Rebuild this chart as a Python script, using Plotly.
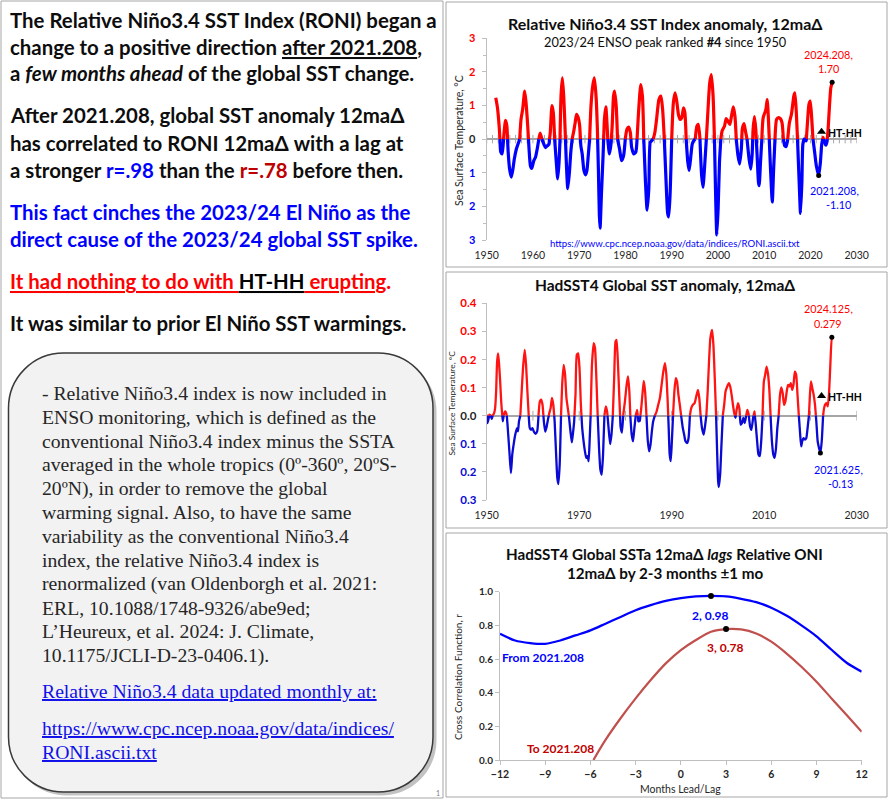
import numpy as np
import plotly.graph_objects as go

W, H = 889, 800

# ---------------- DATA ----------------
# Relative Nino3.4 index, 12-month-average difference
roni_year = [1951.96, 1952.33, 1952.69, 1953.05, 1953.35, 1953.64, 1954.07, 1954.36, 1954.65, 1954.95,
             1955.31, 1955.67, 1955.96, 1956.40, 1956.76, 1957.13, 1957.42, 1957.78, 1958.22, 1958.51,
             1958.87, 1959.16, 1959.45, 1959.75, 1960.18, 1960.55, 1960.91, 1961.27, 1961.56, 1961.93,
             1962.36, 1962.73, 1963.09, 1963.45, 1963.75, 1964.11, 1964.40, 1964.69, 1965.05, 1965.35,
             1965.64, 1965.85, 1966.07, 1966.36, 1966.65, 1966.95, 1967.16, 1967.53, 1967.89, 1968.18,
             1968.47, 1968.84, 1969.13, 1969.42, 1969.78, 1970.07, 1970.36, 1970.65, 1971.02, 1971.38,
             1971.67, 1971.96, 1972.25, 1972.55, 1972.91, 1973.27, 1973.64, 1973.93, 1974.15, 1974.36,
             1974.51, 1974.80, 1975.16, 1975.45, 1975.75, 1976.18, 1976.55, 1976.91, 1977.13, 1977.42,
             1977.64, 1978.00, 1978.29, 1978.73, 1979.16, 1979.60, 1979.96, 1980.33, 1980.69, 1981.05,
             1981.35, 1981.78, 1982.22, 1982.51, 1982.87, 1983.31, 1983.67, 1983.96, 1984.33, 1984.69,
             1985.05, 1985.35, 1985.64, 1986.00, 1986.36, 1986.73, 1987.24, 1987.67, 1988.04, 1988.40,
             1988.76, 1989.13, 1989.35, 1989.64, 1990.00, 1990.36, 1990.73, 1991.09, 1991.45, 1991.82,
             1992.18, 1992.55, 1992.84, 1993.13, 1993.49, 1993.78, 1994.15, 1994.44, 1994.73, 1995.09,
             1995.45, 1995.75, 1996.11, 1996.47, 1996.76, 1997.13, 1997.49, 1997.85, 1998.22, 1998.58,
             1998.95, 1999.24, 1999.53, 1999.75, 2000.04, 2000.33, 2000.62, 2000.91, 2001.42, 2001.78,
             2002.15, 2002.58, 2002.87, 2003.31, 2003.67, 2003.96, 2004.33, 2004.69, 2005.05, 2005.27,
             2005.64, 2006.00, 2006.29, 2006.73, 2007.09, 2007.38, 2007.60, 2007.89, 2008.18, 2008.47,
             2008.76, 2008.91, 2009.20, 2009.49, 2009.78, 2010.36, 2010.65, 2010.95, 2011.24, 2011.53,
             2011.75, 2012.04, 2012.33, 2012.69, 2013.13, 2013.49, 2013.85, 2014.15, 2014.44, 2014.73,
             2015.09, 2015.45, 2015.89, 2016.40, 2016.62, 2016.91, 2017.20, 2017.56, 2017.85, 2018.15,
             2018.36, 2018.65, 2019.09, 2019.38, 2019.67, 2019.96, 2020.33, 2020.55, 2020.91, 2021.27,
             2021.78, 2022.15, 2022.44, 2022.73, 2023.02, 2023.31, 2023.60, 2023.82, 2024.11, 2024.40,
             2024.69]
roni_val = [1.23, 0.93, 0.39, -0.39, -0.44, 0.00, 0.56, 0.39, -0.40, -0.89,
            -1.13, -0.89, -0.60, -0.30, -0.15, 0.00, 0.59, 0.89, 1.43, 1.08,
            0.39, -0.30, -0.79, -0.87, -0.64, -0.54, -0.30, 0.00, 0.18, 0.00,
            -0.15, -0.25, -0.20, -0.15, 0.20, 1.00, 0.79, 0.00, -0.69, -1.18,
            -0.69, 0.00, 1.28, 1.82, 1.28, 0.30, -0.49, -1.47, -0.98, -0.39,
            0.00, 0.25, 0.49, 0.74, 0.64, 0.44, -0.20, -0.44, -0.93, -1.06,
            -0.93, -0.49, 0.00, 0.98, 1.57, 1.82, 1.28, 0.30, -0.89, -2.26,
            -2.65, -1.67, -0.49, 0.59, 0.96, 0.00, -0.44, -0.10, 0.39, 1.28,
            1.43, 0.98, 0.00, -0.30, -0.64, -0.49, 0.00, 0.30, 0.36, 0.20,
            -0.25, -0.44, -0.39, 0.00, 0.88, 1.62, 1.28, 0.00, -1.28, -2.11,
            -1.47, -0.10, -0.05, 0.00, 0.20, 0.59, 1.18, 1.28, 0.88, 0.00,
            -1.18, -2.21, -2.31, -1.67, 0.00, 1.08, 1.38, 1.13, 0.74, 0.59,
            0.64, 0.93, 0.79, 0.00, -0.69, -0.93, -0.49, -0.15, -0.05, 0.00,
            0.39, 0.44, 0.00, -1.08, -1.43, -0.79, 0.00, 0.88, 1.67, 1.92,
            1.28, 0.00, -1.87, -2.85, -2.06, -0.69, 0.00, 0.25, 0.39, 0.61,
            0.54, 0.44, 0.64, 0.96, 0.69, 0.00, -0.49, -0.74, -0.30, 0.30,
            0.46, 0.20, 0.00, -0.59, -0.89, -0.49, 0.30, 0.67, 0.30, -0.49,
            -1.28, -1.38, -0.69, 0.00, 0.64, 0.88, 1.18, 0.49, -0.49, -1.38,
            -1.87, -0.89, 0.00, 0.59, 0.64, 0.61, 0.49, 0.00, -0.20, -0.22,
            0.00, 0.49, 0.74, 1.28, 1.38, 0.88, 0.00, -1.28, -2.21, -1.28,
            -0.15, 0.00, -0.05, 0.54, 1.03, 1.13, 0.49, 0.00, -0.39, -0.79,
            -1.08, -0.69, -0.15, 0.05, -0.10, -0.18, -0.05, 0.30, 0.98, 1.52,
            1.69]

# HadSST4 global SST anomaly, 12-month-average difference
sst_year = [1950.00, 1950.15, 1950.36, 1950.58, 1950.87, 1951.09, 1951.31, 1951.60, 1951.82, 1952.04,
            1952.25, 1952.47, 1952.69, 1952.91, 1953.13, 1953.35, 1953.49, 1953.71, 1954.00, 1954.22,
            1954.36, 1954.65, 1954.95, 1955.24, 1955.53, 1955.82, 1956.18, 1956.55, 1956.76, 1956.98,
            1957.27, 1957.56, 1957.85, 1958.22, 1958.51, 1958.80, 1959.09, 1959.31, 1959.60, 1959.89,
            1960.18, 1960.55, 1960.91, 1961.20, 1961.49, 1961.78, 1962.07, 1962.36, 1962.65, 1962.95,
            1963.24, 1963.53, 1963.82, 1964.11, 1964.40, 1964.69, 1964.98, 1965.27, 1965.49, 1965.78,
            1966.07, 1966.36, 1966.65, 1966.95, 1967.24, 1967.53, 1967.82, 1968.11, 1968.40, 1968.62,
            1968.91, 1969.20, 1969.49, 1969.78, 1970.07, 1970.36, 1970.65, 1970.95, 1971.24, 1971.53,
            1971.82, 1972.04, 1972.25, 1972.47, 1972.76, 1973.13, 1973.42, 1973.71, 1974.00, 1974.29,
            1974.58, 1974.87, 1975.16, 1975.45, 1975.75, 1976.04, 1976.33, 1976.69, 1976.98, 1977.27,
            1977.56, 1977.85, 1978.07, 1978.36, 1978.65, 1978.95, 1979.24, 1979.53, 1979.89, 1980.25,
            1980.55, 1980.84, 1981.05, 1981.35, 1981.64, 1981.93, 1982.22, 1982.51, 1982.80, 1983.09,
            1983.38, 1983.67, 1983.96, 1984.25, 1984.55, 1984.84, 1985.13, 1985.42, 1985.71, 1986.00,
            1986.36, 1986.73, 1987.09, 1987.45, 1987.82, 1988.18, 1988.55, 1988.84, 1989.13, 1989.35,
            1989.56, 1989.78, 1990.00, 1990.29, 1990.58, 1990.87, 1991.16, 1991.45, 1991.75, 1992.04,
            1992.40, 1992.69, 1992.98, 1993.35, 1993.64, 1993.93, 1994.22, 1994.58, 1994.95, 1995.31,
            1995.67, 1995.96, 1996.25, 1996.55, 1996.91, 1997.20, 1997.49, 1997.78, 1998.07, 1998.36,
            1998.73, 1999.02, 1999.31, 1999.60, 1999.82, 2000.04, 2000.18, 2000.47, 2000.76, 2001.05,
            2001.35, 2001.64, 2002.00, 2002.36, 2002.65, 2002.95, 2003.24, 2003.53, 2003.80, 2004.04,
            2004.33, 2004.62, 2004.91, 2005.20, 2005.49, 2005.78, 2006.15, 2006.36, 2006.65, 2006.95,
            2007.24, 2007.60, 2007.89, 2008.18, 2008.47, 2008.76, 2009.05, 2009.35, 2009.64, 2009.93,
            2010.22, 2010.51, 2010.80, 2011.09, 2011.38, 2011.67, 2011.96, 2012.25, 2012.55, 2012.84,
            2013.13, 2013.42, 2013.71, 2014.00, 2014.29, 2014.58, 2014.87, 2015.16, 2015.45, 2015.75,
            2016.04, 2016.33, 2016.62, 2016.91, 2017.20, 2017.49, 2017.78, 2018.00, 2018.22, 2018.51,
            2018.80, 2019.09, 2019.38, 2019.67, 2019.89, 2020.11, 2020.40, 2020.69, 2020.98, 2021.27,
            2021.56, 2021.85, 2022.15, 2022.44, 2022.73, 2022.95, 2023.16, 2023.45, 2023.75, 2024.04,
            2024.33, 2024.62, 2024.85]
sst_val = [0.004, -0.026, -0.014, 0.004, 0.001, -0.011, 0.001, 0.009, 0.027, 0.087,
           0.193, 0.222, 0.181, 0.122, 0.051, 0.004, -0.020, 0.004, 0.015, 0.009,
           -0.002, -0.067, -0.138, -0.204, -0.138, -0.103, -0.067, -0.044, -0.056, -0.020,
           0.000, 0.086, 0.169, 0.234, 0.181, 0.086, 0.000, -0.044, -0.050, -0.044,
           -0.056, -0.065, -0.056, 0.000, 0.051, 0.057, 0.039, -0.020, -0.057, -0.040,
           -0.014, 0.009, 0.027, 0.063, 0.039, -0.020, -0.127, -0.222, -0.243, -0.174,
           0.000, 0.122, 0.181, 0.146, 0.063, 0.027, -0.008, -0.056, -0.095, -0.067,
           -0.020, 0.075, 0.217, 0.222, 0.169, 0.039, -0.044, -0.091, -0.127, -0.150,
           -0.144, -0.162, -0.091, 0.000, 0.181, 0.258, 0.240, 0.134, 0.000, -0.115,
           -0.192, -0.210, -0.138, 0.000, 0.033, 0.015, -0.040, -0.101, -0.067, 0.000,
           0.134, 0.264, 0.270, 0.193, 0.075, -0.040, -0.060, 0.004, 0.051, 0.110,
           0.140, 0.086, 0.000, -0.067, -0.091, -0.044, 0.000, 0.021, -0.020, -0.018,
           0.021, 0.075, 0.124, 0.086, 0.000, -0.091, -0.127, -0.103, -0.056, -0.020,
           0.000, 0.015, 0.039, 0.063, 0.110, 0.157, 0.187, 0.146, 0.051, -0.044,
           -0.138, -0.162, -0.103, 0.000, 0.086, 0.134, 0.122, 0.075, 0.039, 0.000,
           -0.044, -0.067, -0.091, -0.097, -0.080, 0.000, 0.027, 0.039, 0.045, 0.069,
           0.092, 0.063, 0.000, -0.044, -0.067, -0.038, 0.000, 0.086, 0.193, 0.276,
           0.305, 0.251, 0.134, 0.000, -0.127, -0.233, -0.254, -0.210, -0.103, 0.000,
           0.039, 0.086, 0.104, 0.116, 0.104, 0.075, 0.039, 0.009, -0.008, 0.021,
           0.045, 0.027, -0.032, -0.026, -0.008, -0.026, 0.004, 0.021, 0.004, -0.038,
           -0.050, -0.008, 0.015, -0.032, -0.091, -0.138, -0.144, -0.091, 0.000, 0.122,
           0.146, 0.175, 0.151, 0.098, 0.000, -0.091, -0.138, -0.150, -0.115, -0.044,
           0.000, 0.075, 0.101, 0.080, 0.039, 0.051, 0.086, 0.110, 0.104, 0.116,
           0.092, 0.110, 0.157, 0.146, 0.075, 0.000, -0.067, -0.109, -0.091, -0.080,
           -0.085, -0.080, -0.044, 0.000, 0.075, 0.122, 0.098, 0.075, 0.039, -0.020,
           -0.091, -0.115, -0.133, -0.091, 0.000, 0.027, 0.039, 0.045, 0.033, 0.086,
           0.193, 0.279, 0.272]

# Cross correlation function (lead/lag in months)
lag_months = list(range(-12, 13))
ccf_from = [0.75, 0.71, 0.695, 0.69, 0.71, 0.74, 0.77, 0.81, 0.85, 0.89, 0.92, 0.945, 0.962,
            0.972, 0.975, 0.972, 0.958, 0.938, 0.905, 0.858, 0.80, 0.735, 0.655, 0.578, 0.525]
ccf_to_months = [-5.8, -5, -4, -3, -2, -1, 0, 1, 2, 3, 4, 5, 6, 7, 8, 9, 10, 11, 12]
ccf_to = [0.0, 0.119, 0.248, 0.366, 0.475, 0.574, 0.653, 0.713, 0.762, 0.778, 0.776, 0.752,
          0.703, 0.634, 0.554, 0.465, 0.366, 0.267, 0.168]

# HT-HH eruption marker positions
hthh_year = [2022.4]
hthh_roni = [0.22]
hthh_sst = [0.07]

# tick labels
roni_tickvals = [-3, -2, -1, 0, 1, 2, 3]
roni_ticktext = ["3", "2", "1", "0", "1", "2", "3"]
sst_tickvals = [-0.3, -0.2, -0.1, 0.0, 0.1, 0.2, 0.3, 0.4]
sst_ticktext = ["0.3", "0.2", "0.1", "0.0", "0.1", "0.2", "0.3", "0.4"]

# ---------------- HELPERS ----------------
def fx(px):
    return px / W


def fy(py):
    return 1 - py / H


def split_sign(xs, ys):
    px_, py_, nx_, ny_ = [], [], [], []
    for i, (x, y) in enumerate(zip(xs, ys)):
        if i > 0:
            x0, y0 = xs[i - 1], ys[i - 1]
            if (y0 > 0 and y < 0) or (y0 < 0 and y > 0):
                xc = x0 + (x - x0) * y0 / (y0 - y)
                px_.append(xc); py_.append(0.0)
                nx_.append(xc); ny_.append(0.0)
        px_.append(x); py_.append(y if y >= 0 else None)
        nx_.append(x); ny_.append(y if y <= 0 else None)
    return px_, py_, nx_, ny_


def colored_ticks(vals, texts, pos, neg, zero):
    out = []
    for v, t in zip(vals, texts):
        c = pos if v > 0 else (neg if v < 0 else zero)
        out.append("<span style='color:%s'>%s</span>" % (c, t))
    return out


def rrect_path(x0, y0, x1, y1, r):
    k = 0.5523 * r
    P = lambda x, y: "%.5f,%.5f" % (fx(x), fy(y))
    return ("M " + P(x0 + r, y0) + " L " + P(x1 - r, y0) +
            " C " + P(x1 - r + k, y0) + " " + P(x1, y0 + r - k) + " " + P(x1, y0 + r) +
            " L " + P(x1, y1 - r) +
            " C " + P(x1, y1 - r + k) + " " + P(x1 - r + k, y1) + " " + P(x1 - r, y1) +
            " L " + P(x0 + r, y1) +
            " C " + P(x0 + r - k, y1) + " " + P(x0, y1 - r + k) + " " + P(x0, y1 - r) +
            " L " + P(x0, y0 + r) +
            " C " + P(x0, y0 + r - k) + " " + P(x0 + r - k, y0) + " " + P(x0 + r, y0) + " Z")


FONT = "Lato, Arial, sans-serif"
SERIF = "Liberation Serif, Times New Roman, serif"
RED = "#FF0000"
BLUE = "#0000FF"
DRED = "#C00000"
GRAY = "#A6A6A6"
AXC = "#BFBFBF"

fig = go.Figure()

# ---------- chart 1: RONI ----------
rx, ry, bx, by = split_sign(roni_year, roni_val)
ticks1 = list(np.arange(1950, 2030.01, 1.25))
fig.add_trace(go.Scatter(x=ticks1, y=[0] * len(ticks1), mode="markers", xaxis="x", yaxis="y",
                         marker=dict(symbol="line-ns", size=6, line=dict(width=1, color=GRAY)),
                         hoverinfo="skip", showlegend=False))
fig.add_trace(go.Scatter(x=rx, y=ry, mode="lines", xaxis="x", yaxis="y",
                         line=dict(color=RED, width=3.2, shape="spline", smoothing=0.6),
                         connectgaps=False, showlegend=False))
fig.add_trace(go.Scatter(x=bx, y=by, mode="lines", xaxis="x", yaxis="y",
                         line=dict(color=BLUE, width=3.2, shape="spline", smoothing=0.6),
                         connectgaps=False, showlegend=False))
i_lo = int(np.argmin(roni_val[-20:])) + len(roni_val) - 20
i_hi = len(roni_val) - 1
fig.add_trace(go.Scatter(x=[roni_year[i_lo], roni_year[i_hi]], y=[roni_val[i_lo], roni_val[i_hi]],
                         mode="markers", xaxis="x", yaxis="y",
                         marker=dict(color="black", size=5), showlegend=False))
fig.add_trace(go.Scatter(x=hthh_year, y=hthh_roni, mode="markers", xaxis="x", yaxis="y",
                         marker=dict(symbol="triangle-up", color="black", size=8), showlegend=False))

# ---------- chart 2: HadSST4 ----------
rx2, ry2, bx2, by2 = split_sign(sst_year, sst_val)
ticks2 = list(range(1960, 2031, 10))
fig.add_trace(go.Scatter(x=ticks2, y=[0] * len(ticks2), mode="markers", xaxis="x2", yaxis="y2",
                         marker=dict(symbol="line-ns", size=7, line=dict(width=1, color=GRAY)),
                         hoverinfo="skip", showlegend=False))
fig.add_trace(go.Scatter(x=rx2, y=ry2, mode="lines", xaxis="x2", yaxis="y2",
                         line=dict(color="#FF1414", width=2.3, shape="spline", smoothing=0.5),
                         connectgaps=False, showlegend=False))
fig.add_trace(go.Scatter(x=bx2, y=by2, mode="lines", xaxis="x2", yaxis="y2",
                         line=dict(color="#0A0AD2", width=2.3, shape="spline", smoothing=0.5),
                         connectgaps=False, showlegend=False))
j_lo = int(np.argmin(sst_val[-15:])) + len(sst_val) - 15
j_hi = int(np.argmax(sst_val[-5:])) + len(sst_val) - 5
fig.add_trace(go.Scatter(x=[sst_year[j_lo], sst_year[j_hi]], y=[sst_val[j_lo], sst_val[j_hi]],
                         mode="markers", xaxis="x2", yaxis="y2",
                         marker=dict(color="black", size=5), showlegend=False))
fig.add_trace(go.Scatter(x=hthh_year, y=hthh_sst, mode="markers", xaxis="x2", yaxis="y2",
                         marker=dict(symbol="triangle-up", color="black", size=8), showlegend=False))

# ---------- chart 3: cross correlation ----------
fig.add_trace(go.Scatter(x=lag_months, y=ccf_from, mode="lines", xaxis="x3", yaxis="y3",
                         line=dict(color=BLUE, width=2.3, shape="spline", smoothing=0.8),
                         showlegend=False))
fig.add_trace(go.Scatter(x=ccf_to_months, y=ccf_to, mode="lines", xaxis="x3", yaxis="y3",
                         line=dict(color="#C0504D", width=2.2, shape="spline", smoothing=0.8),
                         showlegend=False))
k1 = int(np.argmax(ccf_from))
k2 = int(np.argmax(ccf_to))
fig.add_trace(go.Scatter(x=[lag_months[k1], ccf_to_months[k2]], y=[ccf_from[k1], ccf_to[k2]],
                         mode="markers", xaxis="x3", yaxis="y3",
                         marker=dict(color="black", size=6), showlegend=False))

# ---------- axes ----------
xd12 = [fx(486.7), fx(856.7)]
common_x = dict(showgrid=False, zeroline=False, showline=False, ticks="outside", ticklen=5,
                tickcolor="rgba(0,0,0,0)", automargin=False,
                tickfont=dict(family=FONT, size=10.5, color="#262626"))
fig.update_layout(
    xaxis=dict(domain=xd12, range=[1950, 2030], anchor="y", dtick=10, tick0=1950, **common_x),
    yaxis=dict(domain=[fy(240), fy(38.3)], range=[-3, 3], anchor="x", automargin=False,
               tickvals=roni_tickvals,
               ticktext=colored_ticks(roni_tickvals, roni_ticktext, RED, BLUE, "#262626"),
               tickfont=dict(family=FONT, size=11, weight="bold"),
               showgrid=False, zeroline=True, zerolinecolor=GRAY, zerolinewidth=1.5,
               showline=True, linecolor=AXC, linewidth=1, ticks="outside", ticklen=4,
               tickcolor=AXC, ticklabelstandoff=4,
               minor=dict(dtick=0.5, ticks="outside", ticklen=3, tickcolor=AXC)),
    xaxis2=dict(domain=xd12, range=[1950, 2030], anchor="y2", dtick=20, tick0=1950, **common_x),
    yaxis2=dict(domain=[fy(500), fy(303.3)], range=[-0.3, 0.4], anchor="x2", automargin=False,
                tickvals=sst_tickvals,
                ticktext=colored_ticks(sst_tickvals, sst_ticktext, RED, "#0A0AD2", "#262626"),
                tickfont=dict(family=FONT, size=11.5, weight="bold"),
                showgrid=False, zeroline=True, zerolinecolor=GRAY, zerolinewidth=1.5,
                showline=True, linecolor=AXC, linewidth=1, ticks="outside", ticklen=4,
                tickcolor=AXC, ticklabelstandoff=3),
    xaxis3=dict(domain=[fx(500), fx(861.7)], range=[-12, 12], anchor="y3", dtick=3, tick0=-12,
                showgrid=False, zeroline=False, showline=True, linecolor=AXC, linewidth=1,
                ticks="outside", ticklen=4, tickcolor=AXC, automargin=False,
                tickfont=dict(family=FONT, size=10.5, color="#262626", weight="bold")),
    yaxis3=dict(domain=[fy(760), fy(591.7)], range=[0, 1], anchor="x3", dtick=0.2,
                tickformat=".1f", showgrid=False, zeroline=False, showline=True, linecolor=AXC,
                linewidth=1, ticks="outside", ticklen=4, tickcolor=AXC, automargin=False,
                tickfont=dict(family=FONT, size=10, color="#262626", weight="bold")),
)

# ---------- shapes ----------
shapes = []
for (x0, y0, x1, y1) in [(1, 1, 443, 798), (446, 2, 887, 267), (446, 272, 887, 528), (446, 533, 887, 797)]:
    shapes.append(dict(type="rect", xref="paper", yref="paper", x0=fx(x0), x1=fx(x1), y0=fy(y1), y1=fy(y0),
                       line=dict(color="#A6A6A6", width=1), fillcolor="rgba(0,0,0,0)", layer="below"))
shapes.append(dict(type="path", xref="paper", yref="paper", path=rrect_path(11.5, 356.5, 436.5, 795.5, 55),
                   fillcolor="rgba(120,120,120,0.45)", line=dict(width=0), layer="below"))
shapes.append(dict(type="path", xref="paper", yref="paper", path=rrect_path(8.5, 353, 433, 792, 55),
                   fillcolor="#F2F2F2", line=dict(color="#3A3A3A", width=1.5), layer="below"))
fig.update_layout(shapes=shapes)

# ---------- annotations ----------
ann = []


def A(text, x, y, size, color="black", family=FONT, xanchor="center", yanchor="middle", textangle=0):
    ann.append(dict(text=text, x=fx(x), y=fy(y), xref="paper", yref="paper", showarrow=False,
                    xanchor=xanchor, yanchor=yanchor, textangle=textangle,
                    font=dict(family=family, size=size, color=color)))


# left text
LS = 20.4
UL = "text-decoration:underline"
left_lines = [
    ("<b>The Relative Niño3.4 SST Index (RONI) began a</b>", 20),
    ("<b>change to a positive direction <span style='%s'>after 2021.208</span>,</b>" % UL, 46.7),
    ("<b>a <i>few months ahead</i> of the global SST change.</b>", 73.3),
    ("<b>After 2021.208, global SST anomaly 12maΔ</b>", 115),
    ("<b>has correlated to RONI 12maΔ with a lag at</b>", 142.7),
    ("<b>a stronger <span style='color:%s'>r=.98</span> than the <span style='color:%s'>r=.78</span> before then.</b>" % (BLUE, DRED), 170),
    ("<b><span style='color:%s'>This fact cinches the 2023/24 El Niño as the</span></b>" % BLUE, 211.7),
    ("<b><span style='color:%s'>direct cause of the 2023/24 global SST spike.</span></b>" % BLUE, 239.3),
    ("<b><span style='color:%s;%s'>It had nothing to do with </span><span style='color:black;%s'>HT-HH</span>"
     "<span style='color:%s;%s'> erupting</span><span style='color:%s'>.</span></b>" % (RED, UL, UL, RED, UL, RED), 281),
    ("<b>It was similar to prior El Niño SST warmings.</b>", 322.7),
]
for t, y in left_lines:
    A(t, 8, y, LS, color="#0D0D0D", xanchor="left")

box_lines = [
    "- Relative Niño3.4 index is now included in",
    "ENSO monitoring, which is defined as the",
    "conventional Niño3.4 index minus the SSTA",
    "averaged in the whole tropics (0º-360º, 20ºS-",
    "20ºN), in order to remove the global",
    "warming signal. Also, to have the same",
    "variability as the conventional Niño3.4",
    "index, the relative Niño3.4 index is",
    "renormalized (van Oldenborgh et al. 2021:",
    "ERL, 10.1088/1748-9326/abe9ed;",
    "L’Heureux, et al. 2024: J. Climate,",
    "10.1175/JCLI-D-23-0406.1).",
]
BS = 19.7
for i, t in enumerate(box_lines):
    A(t, 40, 393.3 + 23.8 * i, BS, color="#262626", family=SERIF, xanchor="left")
LINK = "#1010E8"
A("<span style='%s'>Relative Niño3.4 data updated monthly at:</span>" % UL, 40, 690.7, BS, color=LINK,
  family=SERIF, xanchor="left")
A("<span style='%s'>https://www.cpc.ncep.noaa.gov/data/indices/</span>" % UL, 40, 728.3, BS, color=LINK,
  family=SERIF, xanchor="left")
A("<span style='%s'>RONI.ascii.txt</span>" % UL, 40, 751.7, BS, color=LINK, family=SERIF, xanchor="left")
A("1", 438, 793, 7, color="#808080")

# chart 1 texts
A("<b>Relative Niño3.4 SST Index anomaly, 12maΔ</b>", 665, 23.3, 16, color="#0D0D0D")
A("2023/24 ENSO peak ranked <b>#4</b> since 1950", 665, 41.7, 12.8, color="#0D0D0D")
A("Sea Surface Temperature, °C", 459, 140, 10.5, color="#262626", textangle=-90)
A("2024.208,", 828, 55, 10.8, color=RED)
A("1.70", 828, 69, 10.8, color=RED)
A("2021.208,", 834, 190, 10.8, color=BLUE)
A("-1.10", 838, 204, 10.8, color=BLUE)
A("<b>HT-HH</b>", 845, 132.5, 10.5, color="black")
A("https://www.cpc.ncep.noaa.gov/data/indices/RONI.ascii.txt", 675, 244, 9.6, color=BLUE)

# chart 2 texts
A("<b>HadSST4 Global SST anomaly, 12maΔ</b>", 665, 285, 15.5, color="#0D0D0D")
A("Sea Surface Temperature, °C", 451.5, 403, 8.4, color="#262626", textangle=-90)
A("2024.125,", 828, 308, 10.8, color=RED)
A("0.279", 828, 323, 10.8, color=RED)
A("2021.625,", 838, 469, 10.8, color=BLUE)
A("-0.13", 840, 483, 10.8, color=BLUE)
A("<b>HT-HH</b>", 845, 396.5, 10.5, color="black")

# chart 3 texts
A("<b>HadSST4 Global SSTa 12maΔ <i>lags</i> Relative ONI</b>", 664, 554, 15.2, color="#0D0D0D")
A("<b>12maΔ by 2-3 months ±1 mo</b>", 665, 573, 15.2, color="#0D0D0D")
A("<b>2, 0.98</b>", 710, 615, 12, color=BLUE)
A("<b>3, 0.78</b>", 725, 647, 12, color=DRED)
A("<b>From 2021.208</b>", 543, 657, 12, color=BLUE)
A("<b>To 2021.208</b>", 560, 748, 12, color=DRED)
A("Cross Correlation Function, r", 458, 677, 10, color="#262626", textangle=-90)
A("Months Lead/Lag", 680, 789, 10.5, color="#262626")

fig.update_layout(
    annotations=ann,
    width=W, height=H,
    margin=dict(l=0, r=0, t=0, b=0, pad=0, autoexpand=False),
    paper_bgcolor="white", plot_bgcolor="rgba(0,0,0,0)",
    font=dict(family=FONT, color="#262626"),
    showlegend=False,
)

fig.write_html("out.html", config={"displayModeBar": False},
               post_script="document.body.style.margin='0px';")
